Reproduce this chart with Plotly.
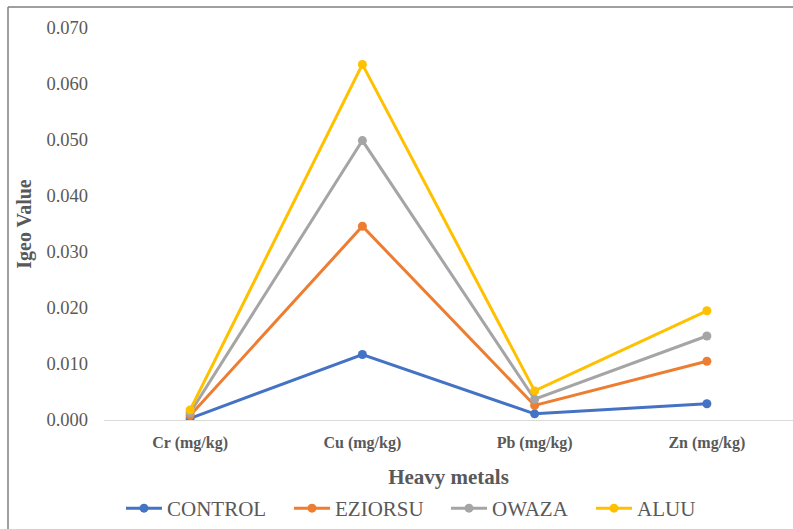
import plotly.graph_objects as go

categories = ["Cr (mg/kg)", "Cu (mg/kg)", "Pb (mg/kg)", "Zn (mg/kg)"]
control = [0.0003, 0.0117, 0.0011, 0.0029]
eziorsu = [0.0008, 0.0346, 0.0026, 0.0105]
owaza = [0.0013, 0.0499, 0.0037, 0.0150]
aluu = [0.0018, 0.0635, 0.0052, 0.0195]
y_ticks = [0.0, 0.01, 0.02, 0.03, 0.04, 0.05, 0.06, 0.07]

series = [
    ("CONTROL", control, "#4472C4", "legend", 127),
    ("EZIORSU", eziorsu, "#ED7D31", "legend2", 295),
    ("OWAZA", owaza, "#A5A5A5", "legend3", 452),
    ("ALUU", aluu, "#FFC000", "legend4", 597),
]

W, H = 793, 529
L, R, T, B = 104, 0, 28, 108
pw, ph = W - L - R, H - T - B

serif = "Liberation Serif, serif"

fig = go.Figure()
legends = {}
for name, vals, col, lg, px in series:
    fig.add_trace(go.Scatter(
        x=categories, y=vals, name=name, mode="lines+markers",
        line=dict(color=col, width=3),
        marker=dict(color=col, size=9),
        legend=lg,
    ))
    legends[lg] = dict(
        orientation="h", x=(px - 6 - L) / pw, xanchor="left",
        y=(H - B - 510) / ph, yanchor="middle",
        bgcolor="rgba(0,0,0,0)", itemwidth=36,
        font=dict(family=serif, size=21, color="#595959"),
    )

fig.update_layout(
    width=W, height=H,
    margin=dict(l=L, r=R, t=T, b=B),
    paper_bgcolor="white", plot_bgcolor="white",
    font=dict(family=serif, color="#595959"),
    showlegend=True,
    xaxis=dict(
        range=[-0.5, 3.5],
        showgrid=False, showline=True, linecolor="#D9D9D9", linewidth=1,
        ticks="", ticklabelstandoff=8,
        tickfont=dict(family=serif, size=16, color="#595959", weight="bold"),
        title=dict(text="Heavy metals", font=dict(family=serif, size=21, color="#595959", weight="bold"), standoff=18),
    ),
    yaxis=dict(
        range=[0, 0.07], tickvals=y_ticks, tickformat=".3f",
        showgrid=False, zeroline=False, showline=False, ticks="",
        ticklabelstandoff=15,
        tickfont=dict(family=serif, size=18.5, color="#595959"),
        title=dict(text="Igeo Value", font=dict(family=serif, size=20, color="#595959", weight="bold"), standoff=9),
    ),
    shapes=[
        dict(type="line", xref="paper", yref="paper",
             x0=(8 - L) / pw, x1=(W - L) / pw, y0=(H - B - 7) / ph, y1=(H - B - 7) / ph,
             line=dict(color="#7F7F7F", width=1.5)),
        dict(type="line", xref="paper", yref="paper",
             x0=(8 - L) / pw, x1=(8 - L) / pw, y0=(H - B - 7) / ph, y1=(H - B - H - 5) / ph,
             line=dict(color="#7F7F7F", width=1.5)),
    ],
    **legends,
)

fig.write_html("out.html")
